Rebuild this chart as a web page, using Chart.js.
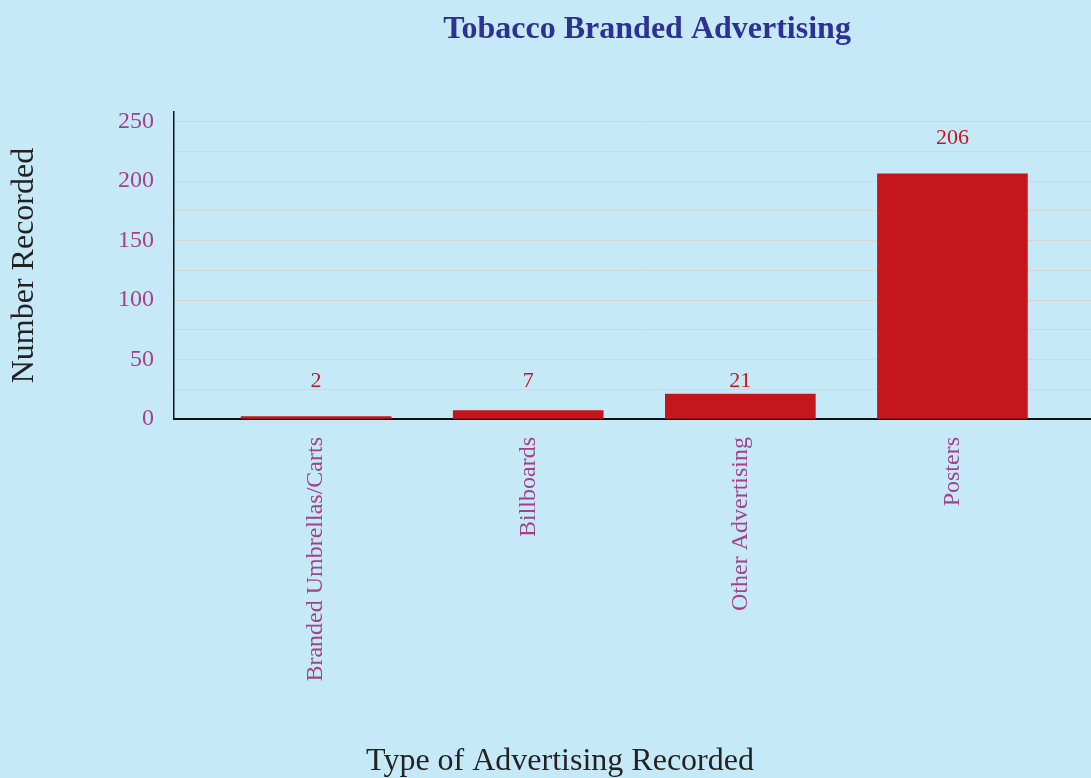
<!DOCTYPE html>
<html>
<head>
<meta charset="utf-8">
<title>Tobacco Branded Advertising</title>
<script src="https://cdn.jsdelivr.net/npm/chart.js@4.4.1/dist/chart.umd.min.js"></script>
<style>
  html, body { margin: 0; padding: 0; overflow: hidden; background: #c6e9f8; }
  canvas { display: block; }
</style>
</head>
<body>
<canvas id="adChart" width="1120" height="778"></canvas>
<script>
const categories = ['Branded Umbrellas/Carts', 'Billboards', 'Other Advertising', 'Posters'];
const counts = [2, 7, 21, 206];
const yTicks = [0, 50, 100, 150, 200, 250];

const serif = "'Liberation Serif', 'Times New Roman', serif";

// value labels above each bar; short bars share one row near the baseline
const barValueLabels = {
  id: 'barValueLabels',
  afterDatasetsDraw(chart) {
    const ctx = chart.ctx;
    const y = chart.scales.y;
    const meta = chart.getDatasetMeta(0);
    ctx.save();
    ctx.font = '22px ' + serif;
    ctx.fillStyle = '#c8161e';
    ctx.textAlign = 'center';
    ctx.textBaseline = 'middle';
    meta.data.forEach((bar, i) => {
      const v = counts[i];
      const at = v < 30 ? 32 : v + 30;
      ctx.fillText(String(v), bar.x, y.getPixelForValue(at));
    });
    ctx.restore();
  }
};

new Chart(document.getElementById('adChart'), {
  type: 'bar',
  data: {
    datasets: [{
      data: counts.map((v, i) => ({ x: i, y: v })),
      backgroundColor: '#c4161c',
      barThickness: 150
    }]
  },
  options: {
    responsive: false,
    animation: false,
    devicePixelRatio: 1,
    layout: { padding: 0 },
    plugins: {
      legend: { display: false },
      tooltip: { enabled: false },
      title: {
        display: true,
        text: 'Tobacco Branded Advertising',
        fullSize: false,
        color: '#2e3192',
        font: { family: serif, size: 32, weight: 'bold' },
        padding: { top: 11, bottom: 62.6 }
      },
      subtitle: {
        display: true,
        position: 'bottom',
        text: 'Type of Advertising Recorded',
        color: '#222',
        font: { family: serif, size: 32, lineHeight: 1 },
        padding: 0
      }
    },
    scales: {
      x: {
        type: 'linear',
        offset: false,
        min: -0.67,
        max: 3.79,
        grid: { display: false },
        border: { color: '#111', width: 2 },
        ticks: {
          stepSize: 1,
          includeBounds: false,
          autoSkip: false,
          minRotation: 90,
          maxRotation: 90,
          padding: 10,
          color: '#a4418a',
          font: { family: serif, size: 24 },
          callback: v => categories[v] ?? ''
        },
        afterFit: s => { s.height = 327; }
      },
      y: {
        min: 0,
        max: 258,
        grid: { color: '#d3d5d6', drawTicks: false },
        border: { color: '#111', width: 1.5 },
        ticks: {
          stepSize: 25,
          includeBounds: false,
          autoSkip: false,
          padding: 20,
          color: '#a4418a',
          font: { family: serif, size: 24 },
          callback: v => yTicks.includes(v) ? v : ''
        },
        title: {
          display: true,
          text: 'Number Recorded',
          color: '#222',
          font: { family: serif, size: 32 },
          padding: { top: 5 }
        },
        afterFit: s => { s.width = 174; }
      }
    }
  },
  plugins: [barValueLabels]
});
</script>
</body>
</html>
